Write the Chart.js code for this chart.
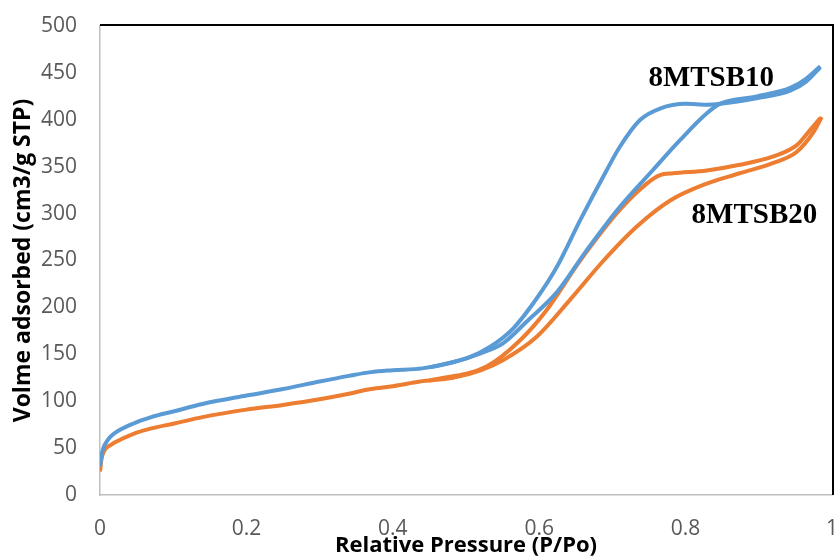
<!DOCTYPE html>
<html>
<head>
<meta charset="utf-8">
<script src="https://cdn.jsdelivr.net/npm/chart.js@4/dist/chart.umd.min.js"></script>
<style>
  html, body { margin: 0; padding: 0; background: #fff; overflow: hidden; }
  #wrap { position: relative; width: 846px; height: 566px; }
</style>
</head>
<body>
<div id="wrap"><canvas id="isothermChart"></canvas></div>
<script>
// 8MTSB10 - adsorption branch
const b10AdsP = [0, 0.002, 0.005, 0.01, 0.014, 0.02, 0.045, 0.07, 0.1, 0.14, 0.2, 0.25, 0.3, 0.34, 0.37, 0.4, 0.44, 0.48, 0.52, 0.551, 0.583, 0.624, 0.665, 0.71, 0.756, 0.792, 0.829, 0.847, 0.897, 0.943, 0.965, 0.984];
const b10AdsV = [30, 42, 51, 58, 62, 66, 76, 83, 89, 97, 106, 113, 121, 127, 131, 133, 135, 141, 151, 162, 185, 216, 261, 307, 347, 378, 407, 417, 425, 434, 444, 457];
// 8MTSB10 - desorption branch
const b10DesP = [0.45, 0.505, 0.533, 0.565, 0.597, 0.624, 0.656, 0.692, 0.71, 0.738, 0.765, 0.8, 0.829, 0.847, 0.897, 0.943, 0.965, 0.984];
const b10DesV = [136, 147, 158, 178, 210, 243, 293, 346, 371, 400, 412, 417, 416, 417, 423, 431, 441, 456];

// 8MTSB20 - adsorption branch
const b20AdsP = [0, 0.002, 0.005, 0.01, 0.014, 0.02, 0.045, 0.07, 0.1, 0.14, 0.2, 0.25, 0.3, 0.34, 0.37, 0.4, 0.437, 0.482, 0.52, 0.551, 0.597, 0.642, 0.688, 0.733, 0.779, 0.829, 0.874, 0.92, 0.952, 0.974, 0.986];
const b20AdsV = [25, 38, 46, 51, 53, 56, 65, 71, 76, 83, 91, 96, 102, 108, 113, 116, 121, 125, 133, 144, 169, 208, 250, 286, 314, 332, 343, 354, 366, 386, 403];
// 8MTSB20 - desorption branch
const b20DesP = [0.45, 0.528, 0.574, 0.61, 0.656, 0.71, 0.747, 0.765, 0.783, 0.829, 0.874, 0.92, 0.952, 0.97, 0.984];
const b20DesV = [122, 137, 165, 197, 250, 304, 332, 341, 343, 346, 352, 361, 373, 389, 402];

const xTicks = [0, 0.2, 0.4, 0.6, 0.8, 1];
const curveLabels = ['8MTSB10', '8MTSB20'];
const labelAnchors = [[0.835, 436], [0.894, 290]];

const blue = '#5B9BD5';
const orange = '#ED7D31';

function pts(xs, ys) {
    return xs.map((x, i) => ({ x: x, y: ys[i] }));
}

function lineSet(label, data, color) {
    return {
        label: label,
        data: data,
        borderColor: color,
        backgroundColor: color,
        borderWidth: 4,
        pointRadius: 0,
        fill: false,
        cubicInterpolationMode: 'monotone'
    };
}

// curve names + frame on top and right
const extras = {
    id: 'extras',
    afterDatasetsDraw(chart) {
        const { ctx, chartArea, scales } = chart;
        ctx.save();
        ctx.strokeStyle = '#000';
        ctx.lineWidth = 2;
        ctx.beginPath();
        ctx.moveTo(chartArea.left, chartArea.top - 1);
        ctx.lineTo(chartArea.right + 1, chartArea.top - 1);
        ctx.lineTo(chartArea.right + 1, chartArea.bottom);
        ctx.stroke();

        ctx.fillStyle = '#000';
        ctx.font = 'bold 29px "Liberation Serif", "Times New Roman", serif';
        ctx.textAlign = 'center';
        ctx.textBaseline = 'alphabetic';
        curveLabels.forEach((t, i) => {
            const px = scales.x.getPixelForValue(labelAnchors[i][0]);
            const py = scales.y.getPixelForValue(labelAnchors[i][1]);
            ctx.fillText(t, px, py);
        });
        ctx.restore();
    }
};

const ctx = document.getElementById('isothermChart').getContext('2d');
const isothermChart = new Chart(ctx, {
    type: 'line',
    data: {
        datasets: [
            lineSet('8MTSB10 ads', pts(b10AdsP, b10AdsV), blue),
            lineSet('8MTSB10 des', pts(b10DesP, b10DesV), blue),
            lineSet('8MTSB20 ads', pts(b20AdsP, b20AdsV), orange),
            lineSet('8MTSB20 des', pts(b20DesP, b20DesV), orange)
        ]
    },
    options: {
        responsive: true,
        maintainAspectRatio: false,
        animation: false,
        layout: { padding: { top: 26, right: 14, bottom: 0, left: 0 } },
        plugins: {
            legend: { display: false },
            tooltip: { enabled: false }
        },
        scales: {
            x: {
                type: 'linear',
                min: 0,
                max: 1,
                afterBuildTicks: (scale) => { scale.ticks = xTicks.map(v => ({ value: v })); },
                afterFit: (scale) => {
                    scale.height = 71;
                    scale.paddingLeft = 0;
                    scale.paddingRight = 0;
                },
                grid: { display: false, drawTicks: false },
                border: { display: true, color: '#BFBFBF', width: 1.5 },
                ticks: {
                    color: '#595959',
                    padding: 21,
                    maxRotation: 0,
                    callback: (v) => String(v),
                    font: { family: '"Open Sans", sans-serif', size: 21 }
                },
                title: {
                    display: true,
                    text: 'Relative Pressure (P/Po)',
                    color: '#000',
                    padding: { top: 0, bottom: 7 },
                    font: { family: '"Open Sans", sans-serif', size: 22, weight: 'bold' }
                }
            },
            y: {
                min: 0,
                max: 500,
                afterFit: (scale) => {
                    scale.width = 100;
                    scale.paddingTop = 0;
                    scale.paddingBottom = 0;
                },
                grid: { display: false, drawTicks: false },
                border: { display: true, color: '#BFBFBF', width: 1.5 },
                ticks: {
                    stepSize: 50,
                    color: '#595959',
                    padding: 23,
                    font: { family: '"Open Sans", sans-serif', size: 21 }
                },
                title: {
                    display: true,
                    text: 'Volme adsorbed (cm3/g STP)',
                    color: '#000',
                    padding: { top: 10, bottom: 0 },
                    font: { family: '"Open Sans", sans-serif', size: 23, weight: 'bold' }
                }
            }
        }
    },
    plugins: [extras]
});
</script>
</body>
</html>
